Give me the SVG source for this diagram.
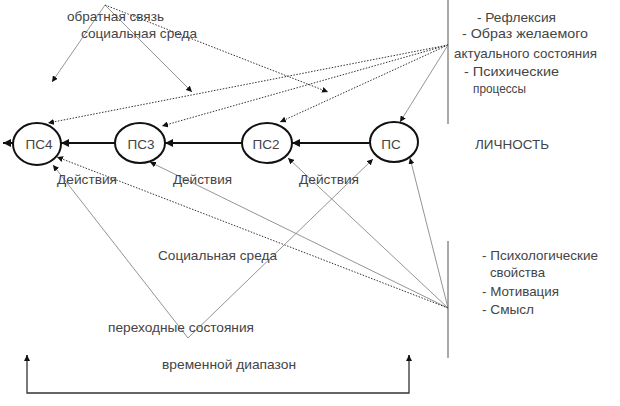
<svg xmlns="http://www.w3.org/2000/svg" width="620" height="406" viewBox="0 0 620 406">
<style>
text{font-family:"Liberation Sans",Arial,sans-serif;font-size:13.5px;fill:#444}
.thin{stroke:#888;stroke-width:0.9;fill:none}
.dot{stroke:#333;stroke-width:1;stroke-dasharray:1.5,1.5;fill:none}
.thick{stroke:#111;stroke-width:2;fill:none}
.node ellipse{fill:#fff;stroke:#111;stroke-width:2}
.div{stroke:#555;stroke-width:1}
</style>
<defs>
<marker id="a" viewBox="0 0 10 10" refX="10" refY="5" markerWidth="6" markerHeight="6" orient="auto" markerUnits="userSpaceOnUse"><path d="M0,0L10,5L0,10z" fill="#111"/></marker>
<marker id="b" viewBox="0 0 10 10" refX="10" refY="5" markerWidth="8" markerHeight="8" orient="auto" markerUnits="userSpaceOnUse"><path d="M0,0L10,5L0,10z" fill="#111"/></marker>
</defs>
<rect width="620" height="406" fill="#fff"/>
<g id="dividers">
<line class="div" x1="448" y1="0" x2="448" y2="124"/>
<line class="div" x1="448" y1="241" x2="448" y2="358"/>
</g>
<g id="connectors">
<line class="thin" x1="105" y1="5" x2="52" y2="82" marker-end="url(#a)"/>
<line class="thin" x1="105" y1="5" x2="192" y2="92" marker-end="url(#a)"/>
<line class="dot" x1="105" y1="5" x2="328" y2="92" marker-end="url(#a)"/>
<line class="dot" x1="448" y1="45" x2="48" y2="123" marker-end="url(#a)"/>
<line class="dot" x1="448" y1="45" x2="162" y2="126" marker-end="url(#a)"/>
<line class="dot" x1="448" y1="45" x2="280" y2="122" marker-end="url(#a)"/>
<line class="thin" x1="448" y1="45" x2="400" y2="122" marker-end="url(#a)"/>
<line class="thin" x1="448" y1="308" x2="410" y2="158" marker-end="url(#a)"/>
<line class="thin" x1="448" y1="308" x2="288" y2="158" marker-end="url(#a)"/>
<line class="thin" x1="448" y1="308" x2="150" y2="162" marker-end="url(#a)"/>
<line class="dot" x1="448" y1="308" x2="57" y2="157" marker-end="url(#a)"/>
<line class="thin" x1="188" y1="338" x2="53" y2="165" marker-end="url(#a)"/>
<line class="thin" x1="188" y1="338" x2="373" y2="159" marker-end="url(#a)"/>
<line class="thick" x1="370" y1="143" x2="292" y2="143" marker-end="url(#b)"/>
<line class="thick" x1="242" y1="143" x2="165" y2="143" marker-end="url(#b)"/>
<line class="thick" x1="115" y1="143" x2="61" y2="143" marker-end="url(#b)"/>
<line class="thick" x1="13" y1="143" x2="3" y2="143" marker-end="url(#b)"/>
<polyline class="thick" style="stroke-width:1.3;stroke:#333" points="27,355 27,393 409,393 409,355"/>
<line stroke="#111" x1="27" y1="361" x2="27" y2="355" marker-end="url(#a)"/>
<line stroke="#111" x1="409" y1="361" x2="409" y2="355" marker-end="url(#a)"/>
</g>
<g id="ps4" class="node"><ellipse cx="37" cy="144" rx="24" ry="21"/><text x="39" y="149" text-anchor="middle">ПС4</text></g>
<g id="ps3" class="node"><ellipse cx="140" cy="143" rx="25" ry="20"/><text x="141" y="149" text-anchor="middle">ПС3</text></g>
<g id="ps2" class="node"><ellipse cx="267" cy="143" rx="25" ry="20"/><text x="266" y="149" text-anchor="middle">ПС2</text></g>
<g id="ps" class="node"><ellipse cx="394" cy="142" rx="24" ry="20"/><text x="391" y="149" text-anchor="middle">ПС</text></g>
<g id="labels">
<text x="67" y="21" textLength="97" lengthAdjust="spacingAndGlyphs">обратная связь</text>
<text x="81" y="38" textLength="116" lengthAdjust="spacingAndGlyphs">социальная среда</text>
<text x="477" y="22" textLength="79" lengthAdjust="spacingAndGlyphs">- Рефлексия</text>
<text x="462" y="38" textLength="126" lengthAdjust="spacingAndGlyphs">- Образ желаемого</text>
<text x="454" y="58" textLength="143" lengthAdjust="spacingAndGlyphs">актуального состояния</text>
<text x="464" y="76" textLength="95" lengthAdjust="spacingAndGlyphs">- Психические</text>
<text x="473" y="93" textLength="53" lengthAdjust="spacingAndGlyphs">процессы</text>
<text x="475" y="149" textLength="74" lengthAdjust="spacingAndGlyphs">ЛИЧНОСТЬ</text>
<text x="57" y="184" textLength="60" lengthAdjust="spacingAndGlyphs">Действия</text>
<text x="173" y="184" textLength="59" lengthAdjust="spacingAndGlyphs">Действия</text>
<text x="299" y="184" textLength="60" lengthAdjust="spacingAndGlyphs">Действия</text>
<text x="158" y="260" textLength="119" lengthAdjust="spacingAndGlyphs">Социальная среда</text>
<text x="108" y="332" textLength="146" lengthAdjust="spacingAndGlyphs">переходные состояния</text>
<text x="162" y="369" textLength="134" lengthAdjust="spacingAndGlyphs">временной диапазон</text>
<text x="482" y="260" textLength="116" lengthAdjust="spacingAndGlyphs">- Психологические</text>
<text x="490" y="277" textLength="55" lengthAdjust="spacingAndGlyphs">свойства</text>
<text x="482" y="296" textLength="77" lengthAdjust="spacingAndGlyphs">- Мотивация</text>
<text x="482" y="314" textLength="52" lengthAdjust="spacingAndGlyphs">- Смысл</text>
</g>
</svg>
